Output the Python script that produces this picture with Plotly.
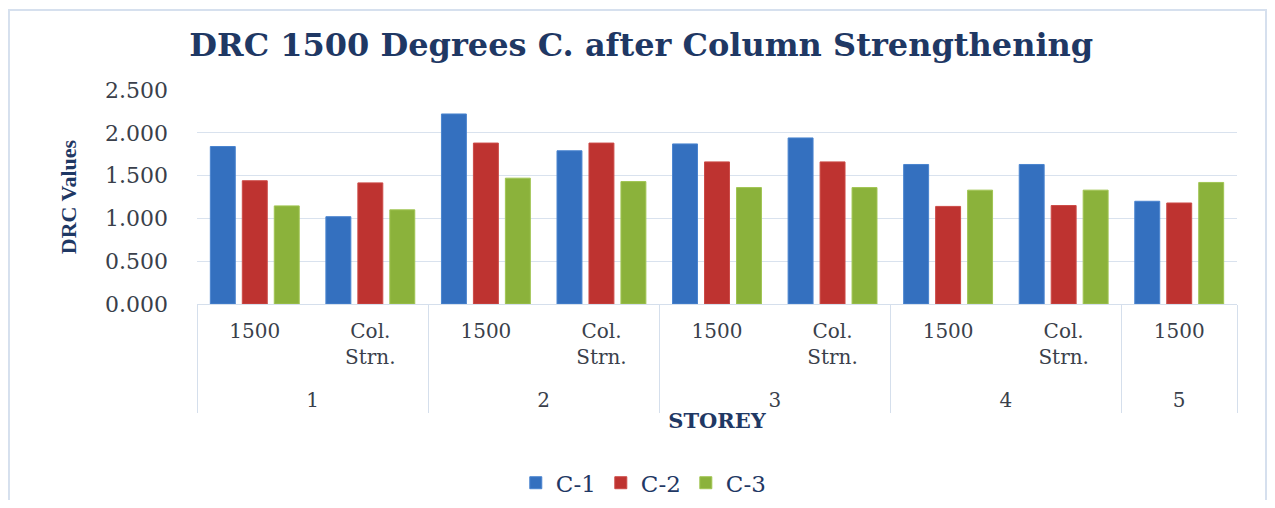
import plotly.graph_objects as go

storeys = ["1", "1", "2", "2", "3", "3", "4", "4", "5"]
conditions = ["1500", "Col.<br>Strn.", "1500", "Col.<br>Strn.", "1500", "Col.<br>Strn.", "1500", "Col.<br>Strn.", "1500"]
c1 = [1.84, 1.02, 2.22, 1.79, 1.87, 1.94, 1.63, 1.63, 1.20]
c2 = [1.44, 1.415, 1.88, 1.88, 1.66, 1.66, 1.14, 1.15, 1.18]
c3 = [1.146, 1.10, 1.47, 1.43, 1.36, 1.36, 1.33, 1.33, 1.42]
series_names = ["C-1", "C-2", "C-3"]
y_ticks = [0, 0.5, 1.0, 1.5, 2.0, 2.5]
y_tick_text = ["0.000", "0.500", "1.000", "1.500", "2.000", "2.500"]

# group labels sit one line lower, as in the reference
storey_labels = ["<br>" + s for s in storeys]

colors = ["#3470BF", "#BE3330", "#8BB23B"]
edge = ["#4A84CF", "#CC4A46", "#A0C552"]

fig = go.Figure()
for name, vals, col, ec in zip(series_names, [c1, c2, c3], colors, edge):
    fig.add_trace(go.Bar(
        x=[storey_labels, conditions], y=vals, name=name,
        marker=dict(color=col, line=dict(color=ec, width=1)),
    ))

serif = "DejaVu Serif"
fig.update_layout(
    width=1259, height=492,
    margin=dict(l=189, r=30, t=82, b=196),
    paper_bgcolor="white", plot_bgcolor="white",
    barmode="group", bargap=0.17, bargroupgap=0.22,
    title=dict(text="<b>DRC 1500 Degrees C. after Column Strengthening</b>",
               font=dict(family=serif, size=32, color="#1F3864"),
               x=0.503, xref="container", xanchor="center",
               y=0.925, yref="container", yanchor="middle"),
    legend=dict(orientation="h", x=0.505, xref="container", xanchor="center",
                y=0.035, yref="container", yanchor="middle",
                font=dict(family=serif, size=23, color="#1F3864"),
                itemwidth=30, traceorder="normal"),
    showlegend=True,
)
fig.update_yaxes(
    range=[0, 2.5], tickvals=y_ticks, ticktext=y_tick_text,
    showgrid=True, gridcolor="#D9E2EE", gridwidth=1,
    zeroline=False, showline=False, ticks="",
    tickfont=dict(family=serif, size=22, color="#3A3F4B"),
    ticklabelstandoff=28,
    title=dict(text="<b>DRC Values</b>", font=dict(family="Liberation Serif", size=22, color="#1F3864"),
               standoff=22),
)
fig.update_xaxes(
    type="multicategory",
    showline=True, linecolor="#D5DFEC", linewidth=1,
    showdividers=True, dividercolor="#D5DFEC", dividerwidth=1,
    ticks="", ticklabelstandoff=9,
    tickfont=dict(family=serif, size=20, color="#3A3F4B"),
    title=dict(text="<b>STOREY</b>", font=dict(family=serif, size=21, color="#1F3864"), standoff=2),
)
fig.add_shape(type="rect", xref="paper", yref="paper",
              x0=-0.1808, x1=1.0279, y0=-0.96, y1=1.374,
              line=dict(color="#D6E0EE", width=2), fillcolor="rgba(0,0,0,0)", layer="below")

fig.write_html("out.html")
